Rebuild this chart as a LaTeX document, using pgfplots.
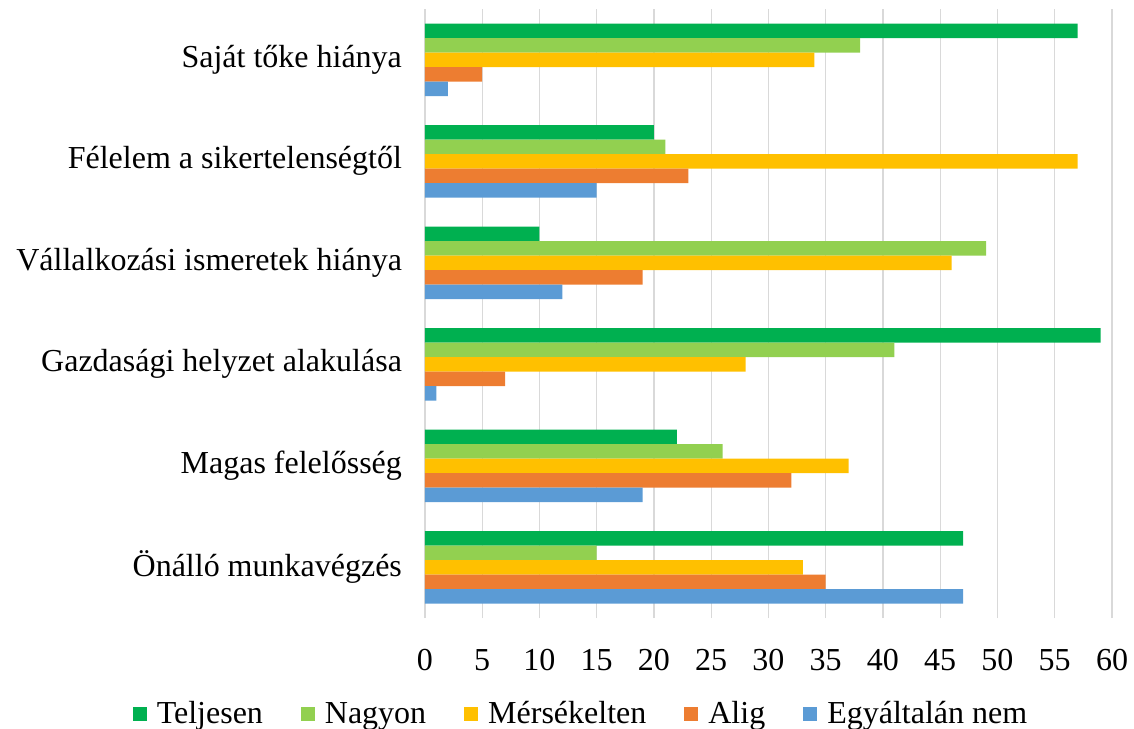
\documentclass[border=0pt]{standalone}
\usepackage{fontspec}
\setmainfont{Liberation Serif}
\usepackage{pgfplots}
\pgfplotsset{compat=1.18}
\definecolor{cT}{HTML}{00B050}
\definecolor{cN}{HTML}{92D050}
\definecolor{cM}{HTML}{FFC000}
\definecolor{cA}{HTML}{ED7D31}
\definecolor{cE}{HTML}{5B9BD5}
\begin{document}
\begin{tikzpicture}
\begin{axis}[
 scale only axis, width=343.5pt, height=304.5pt,
 xmin=0, xmax=60, ymin=-0.5, ymax=5.5,
 xtick={0,5,...,60}, ytick={0,...,5},
 yticklabels={Önálló munkavégzés, Magas felelősség, Gazdasági helyzet alakulása, Vállalkozási ismeretek hiánya, Félelem a sikertelenségtől, Saját tőke hiánya},
 xmajorgrids, grid style={draw=black!15, line width=0.6pt},
 axis line style={draw=none}, major tick length=0,
 tick label style={font=\fontsize{16}{19}\selectfont},
 /pgf/number format/assume math mode=true,
 xticklabel style={yshift=-12pt},
 yticklabel style={xshift=-8pt},
 xbar, bar width=7.25pt,
 legend columns=5,
 legend style={at={(0.2256,-0.158)}, anchor=center, draw=none, fill=none,
   font=\fontsize{16}{19}\selectfont,
   /tikz/every even column/.append style={column sep=15pt}},
 mybar/.style={draw=none, legend image code/.code={\fill[##1] (2pt,-3.5pt) rectangle (9pt,3.5pt); \path (0pt,0pt) (12pt,0pt);}},
]
\coordinate (bl) at (rel axis cs:0,0);
\addplot[mybar, fill=cT, bar shift=14.5pt] coordinates {(47,0) (22,1) (59,2) (10,3) (20,4) (57,5)};
\addplot[mybar, fill=cN, bar shift=7.25pt] coordinates {(15,0) (26,1) (41,2) (49,3) (21,4) (38,5)};
\addplot[mybar, fill=cM, bar shift=0pt] coordinates {(33,0) (37,1) (28,2) (46,3) (57,4) (34,5)};
\addplot[mybar, fill=cA, bar shift=-7.25pt] coordinates {(35,0) (32,1) (7,2) (19,3) (23,4) (5,5)};
\addplot[mybar, fill=cE, bar shift=-14.5pt] coordinates {(47,0) (19,1) (1,2) (12,3) (15,4) (2,5)};
\legend{Teljesen, Nagyon, Mérsékelten, Alig, Egyáltalán nem}
\end{axis}
\pgfresetboundingbox
\path (bl) ++(-212.5pt,-55pt) rectangle ++(567pt,364pt);
\end{tikzpicture}
\end{document}
